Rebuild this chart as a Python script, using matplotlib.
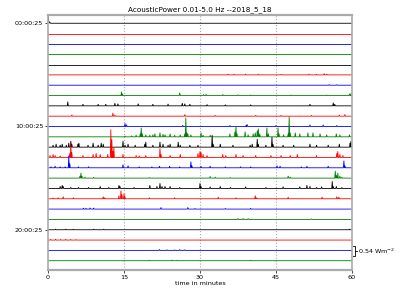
import numpy as np
import matplotlib
matplotlib.use("Agg")
import matplotlib.pyplot as plt

TITLE = "AcousticPower 0.01-5.0 Hz --2018_5_18"
COLORS = ["k", "r", "b", "g"]
YTICK_HOURS = [0, 10, 20]
YTICK_LABELS = ["00:00:25", "10:00:25", "20:00:25"]
XTICKS = [0, 15, 30, 45, 60]
XLABEL = "time in minutes"
SPACING = 0.52      # Wm^-2 between consecutive hourly traces
SCALE_BAR = 0.54    # Wm^-2
SCALE_LABEL = "0.54 Wm$^{-2}$"

# (minute, acoustic power in Wm^-2) for each hourly trace; zero elsewhere
h00 = [(0.0, 0.40), (0.1, 0.15), (0.2, 0.08), (0.3, 0.05), (0.5, 0.02)]
h01 = []
h02 = []
h03 = []
h04 = []
h05 = [(35.5, 0.04), (36.7, 0.03), (39.0, 0.04), (41.5, 0.03), (46.0, 0.025),
       (51.5, 0.04), (53.0, 0.03), (54.5, 0.06), (55.0, 0.04)]
h06 = [(55.5, 0.03), (57.0, 0.025)]
h07 = [(14.5, 0.18), (14.7, 0.08), (26.0, 0.13), (30.7, 0.05), (31.2, 0.06),
       (34.5, 0.05), (37.5, 0.04), (40.0, 0.03), (48.0, 0.03), (55.0, 0.03),
       (59.5, 0.08), (59.8, 0.10)]
h08 = [(3.9, 0.20), (6.9, 0.08), (9.9, 0.08), (11.4, 0.08), (13.2, 0.13),
       (13.8, 0.10), (17.8, 0.10), (20.7, 0.08), (23.7, 0.09), (26.5, 0.13),
       (27.0, 0.10), (28.0, 0.08), (31.4, 0.06), (35.0, 0.05), (40.0, 0.05),
       (51.7, 0.08), (56.3, 0.15), (56.6, 0.08)]
h09 = [(4.7, 0.06), (12.8, 0.15), (13.2, 0.05), (27.0, 0.08), (33.0, 0.04),
       (41.0, 0.04), (46.0, 0.04), (52.0, 0.04), (57.5, 0.05), (58.6, 0.08)]
h10 = [(15.2, 0.15), (15.5, 0.08), (26.6, 0.06), (35.9, 0.05), (39.1, 0.06),
       (39.3, 0.10), (45.0, 0.05), (51.7, 0.08), (54.3, 0.08), (57.0, 0.05)]
h11 = [(15.2, 0.04), (16.5, 0.05), (17.4, 0.08), (18.2, 0.15), (18.4, 0.45),
       (18.6, 0.15), (19.3, 0.10), (20.1, 0.08), (20.7, 0.10), (21.1, 0.15),
       (22.1, 0.20), (22.7, 0.13), (23.1, 0.10), (24.1, 0.15), (25.0, 0.08),
       (26.1, 0.10), (27.0, 0.15), (27.2, 0.95), (27.4, 0.20), (27.6, 0.15),
       (28.2, 0.10), (30.2, 0.20), (30.6, 0.08), (32.0, 0.08), (35.9, 0.15),
       (36.9, 0.25), (37.1, 0.50), (37.3, 0.15), (38.9, 0.25), (39.5, 0.10),
       (40.5, 0.15), (40.9, 0.20), (41.3, 0.30), (41.5, 0.40), (41.8, 0.15),
       (43.2, 0.45), (43.5, 0.15), (45.4, 0.45), (45.6, 0.15), (46.5, 0.10),
       (47.4, 0.15), (47.6, 1.00), (47.8, 0.20), (48.8, 0.20), (49.7, 0.15),
       (51.3, 0.20), (52.3, 0.20), (53.7, 0.15), (55.0, 0.10), (56.9, 0.15),
       (57.6, 0.10), (59.5, 0.10)]
h12 = [(1.0, 0.10), (1.6, 0.15), (2.4, 0.10), (2.8, 0.15), (3.6, 0.10),
       (4.1, 0.20), (4.5, 0.30), (4.7, 0.15), (5.9, 0.15), (6.1, 0.20),
       (7.9, 0.10), (8.9, 0.20), (9.9, 0.10), (10.5, 0.20), (10.9, 0.15),
       (12.4, 0.10), (14.8, 0.30), (15.2, 0.10), (15.8, 0.15), (17.2, 0.10),
       (19.1, 0.15), (19.3, 0.25), (20.7, 0.10), (22.1, 0.25), (22.7, 0.15),
       (23.7, 0.10), (24.1, 0.15), (25.7, 0.25), (26.1, 0.10), (28.0, 0.10),
       (29.6, 0.10), (32.4, 0.60), (32.6, 0.15), (34.0, 0.15), (36.5, 0.10),
       (39.9, 0.10), (40.3, 0.15), (41.3, 0.40), (41.5, 0.15), (43.0, 0.10),
       (44.2, 0.50), (44.4, 0.15), (46.4, 0.10), (48.5, 0.10), (51.7, 0.15),
       (53.0, 0.10), (55.3, 0.10), (57.5, 0.15), (59.6, 0.20), (59.8, 0.30)]
h13 = [(0.4, 0.10), (1.0, 0.15), (1.4, 0.10), (2.4, 0.08), (4.3, 0.20),
       (4.5, 0.75), (4.7, 0.25), (6.9, 0.10), (8.9, 0.15), (9.5, 0.20),
       (10.3, 0.15), (11.8, 0.15), (12.4, 1.40), (12.6, 0.90), (12.8, 0.30),
       (13.0, 0.50), (14.8, 0.15), (17.4, 0.10), (18.0, 0.08), (19.3, 0.10),
       (22.1, 0.45), (22.3, 0.15), (24.1, 0.10), (26.1, 0.15), (29.6, 0.20),
       (30.0, 0.30), (30.2, 0.25), (30.6, 0.15), (31.4, 0.10), (34.5, 0.15),
       (35.1, 0.10), (37.1, 0.15), (38.5, 0.10), (41.0, 0.10), (44.0, 0.10),
       (46.0, 0.10), (47.8, 0.10), (49.2, 0.15), (53.0, 0.10), (57.0, 0.20),
       (57.2, 0.30), (57.6, 0.15), (58.2, 0.10)]
h14 = [(0.6, 0.05), (1.4, 0.08), (2.4, 0.05), (3.4, 0.05), (4.1, 0.60),
       (4.3, 0.20), (6.0, 0.05), (8.0, 0.05), (14.8, 0.15), (15.8, 0.10),
       (18.0, 0.05), (20.5, 0.05), (22.0, 0.08), (24.0, 0.08), (26.0, 0.05),
       (28.2, 0.30), (28.4, 0.10), (30.2, 0.08), (32.0, 0.08), (35.0, 0.05),
       (38.0, 0.05), (40.0, 0.05), (45.2, 0.10), (45.8, 0.08), (50.0, 0.05),
       (51.1, 0.08), (55.3, 0.08), (58.4, 0.35), (58.6, 0.10)]
h15 = [(6.3, 0.10), (6.5, 0.25), (6.7, 0.10), (7.3, 0.05), (9.0, 0.04),
       (20.0, 0.03), (32.0, 0.08), (33.0, 0.05), (36.0, 0.03), (47.4, 0.10),
       (47.8, 0.05), (56.7, 0.35), (56.9, 0.15), (57.2, 0.25), (57.6, 0.10),
       (58.0, 0.05)]
h16 = [(2.4, 0.10), (2.8, 0.15), (3.0, 0.10), (4.5, 0.05), (6.0, 0.05),
       (8.0, 0.05), (10.3, 0.10), (12.0, 0.05), (14.0, 0.15), (14.2, 0.10),
       (17.0, 0.05), (20.1, 0.15), (21.5, 0.10), (22.1, 0.25), (22.5, 0.10),
       (23.1, 0.10), (24.1, 0.10), (26.0, 0.05), (30.0, 0.25), (30.2, 0.10),
       (32.0, 0.08), (34.0, 0.10), (36.0, 0.05), (39.0, 0.08), (43.0, 0.05),
       (46.4, 0.08), (49.7, 0.08), (51.1, 0.15), (51.7, 0.10), (53.0, 0.05),
       (54.0, 0.08), (56.1, 0.35), (56.3, 0.10), (56.9, 0.10), (58.0, 0.05)]
h17 = [(1.0, 0.04), (2.0, 0.05), (3.0, 0.10), (5.0, 0.05), (10.9, 0.10),
       (11.2, 0.05), (14.0, 0.15), (14.4, 0.40), (14.6, 0.20), (15.0, 0.25),
       (15.2, 0.10), (20.0, 0.05), (25.0, 0.05), (33.6, 0.08), (37.1, 0.05),
       (40.9, 0.15), (41.2, 0.05), (47.4, 0.08), (54.1, 0.08), (57.0, 0.10),
       (57.4, 0.08)]
h18 = [(7.0, 0.05), (7.5, 0.04), (8.3, 0.06), (9.0, 0.05), (22.3, 0.08),
       (27.6, 0.08), (29.0, 0.03), (35.0, 0.03), (40.0, 0.04)]
h19 = [(37.5, 0.05), (38.5, 0.05), (39.5, 0.04), (52.0, 0.025)]
h20 = [(1.5, 0.03), (3.5, 0.03), (5.0, 0.025), (9.0, 0.025), (11.0, 0.025),
       (59.5, 0.03)]
h21 = [(0.5, 0.03), (1.5, 0.04), (2.5, 0.03), (3.5, 0.04), (4.5, 0.03),
       (5.5, 0.025)]
h22 = [(22.0, 0.04), (23.5, 0.03), (25.0, 0.025), (26.0, 0.04), (27.0, 0.03)]
h23 = [(20.0, 0.025), (24.5, 0.03), (25.5, 0.025), (40.0, 0.025)]

HOURS = [h00, h01, h02, h03, h04, h05, h06, h07, h08, h09, h10, h11,
         h12, h13, h14, h15, h16, h17, h18, h19, h20, h21, h22, h23]

FS = 4.6
t = np.round(np.arange(0, 600.5) / 10.0, 1)

fig = plt.figure(figsize=(4, 3), dpi=100)
ax = fig.add_axes([0.12, 0.10, 0.76, 0.85])

for i, spikes in enumerate(HOURS):
    v = np.zeros_like(t)
    for m, a in spikes:
        v[int(round(m * 10))] = a
    ax.plot(t, v - i * SPACING, color=COLORS[i % 4], lw=0.6)

ax.set_xlim(0, 60)
ax.set_ylim(-23.9 * SPACING, 0.8 * SPACING)
ax.set_xticks(XTICKS)
ax.set_xticklabels([str(x) for x in XTICKS])
ax.set_yticks([-h * SPACING for h in YTICK_HOURS])
ax.set_yticklabels(YTICK_LABELS)
ax.tick_params(labelsize=FS, length=2, width=0.5, pad=1.5)
for x in XTICKS[1:-1]:
    ax.axvline(x, color="#aaaaaa", ls=":", lw=0.8, zorder=0)
for s in ax.spines.values():
    s.set_color("#aaaaaa")
    s.set_linewidth(1.2)
ax.spines["top"].set_linewidth(1.6)
ax.spines["bottom"].set_linewidth(1.6)
ax.set_title(TITLE, fontsize=FS + 0.6, pad=3)
ax.set_xlabel(XLABEL, fontsize=FS, labelpad=1)

# scale bar
yc = -22 * SPACING - 0.03
ya, yb = yc + SCALE_BAR / 2, yc - SCALE_BAR / 2
xb = 60.5
ax.plot([60.1, xb, xb, 60.1], [ya, ya, yb, yb], color="k", lw=0.6, clip_on=False)
ax.plot([xb, 60.9], [yc, yc], color="k", lw=0.6, clip_on=False)
ax.text(61.2, yc, SCALE_LABEL, fontsize=FS, va="center", ha="left")

fig.savefig("out.png", dpi=100)
